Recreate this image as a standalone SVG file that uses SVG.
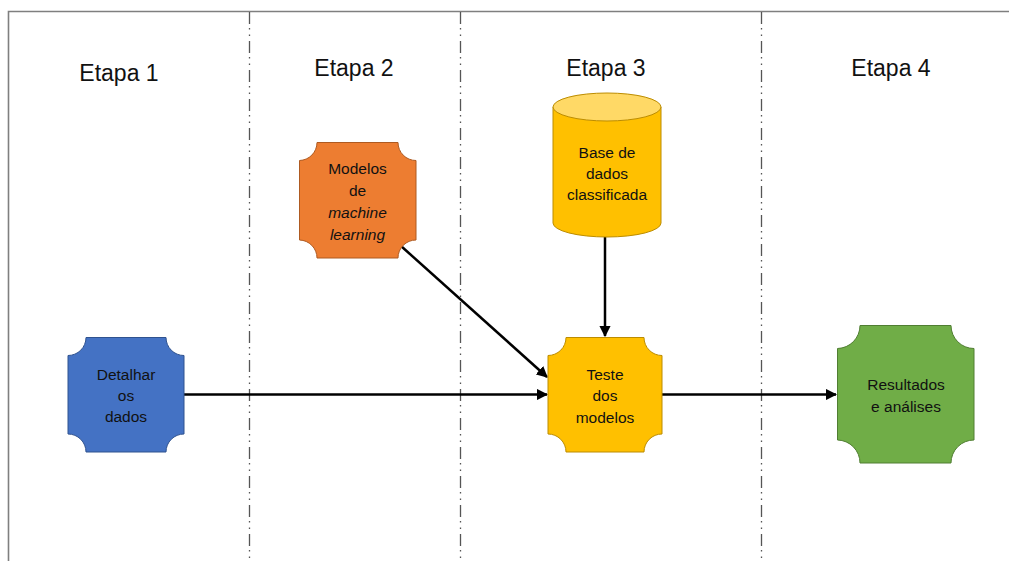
<svg xmlns="http://www.w3.org/2000/svg" width="1009" height="561" viewBox="0 0 1009 561">
<style>
.t{font-family:"Liberation Sans",Arial,sans-serif;font-size:15.5px;fill:#111;text-anchor:middle}
.h{font-family:"Liberation Sans",Arial,sans-serif;font-size:23px;fill:#111;text-anchor:middle}
.div{stroke:#555;stroke-width:1.3;stroke-dasharray:12 4 1.5 5 1.5 5;fill:none}
.c{stroke:#000;stroke-width:2.5;fill:none;marker-end:url(#ah)}
</style>
<defs>
<marker id="ah" viewBox="0 0 10 10" refX="9" refY="5" markerWidth="4.5" markerHeight="4.5" orient="auto" markerUnits="strokeWidth">
<path d="M0,0 L10,5 L0,10 z" fill="#000"/>
</marker>
</defs>
<rect width="1009" height="561" fill="#fff"/>
<g id="frame">
<path d="M8.5,561 V11.5 H1009" fill="none" stroke="#7f7f7f" stroke-width="1.6"/>
<line class="div" x1="249.5" y1="12" x2="249.5" y2="561"/>
<line class="div" x1="460.5" y1="12" x2="460.5" y2="561"/>
<line class="div" x1="761.5" y1="12" x2="761.5" y2="561"/>
</g>
<g id="headings">
<text class="h" x="119" y="81">Etapa 1</text>
<text class="h" x="354" y="76">Etapa 2</text>
<text class="h" x="606" y="76">Etapa 3</text>
<text class="h" x="891" y="76">Etapa 4</text>
</g>
<g id="connectors">
<line class="c" x1="184" y1="394.5" x2="547" y2="394.5"/>
<line class="c" x1="401" y1="246" x2="547" y2="377"/>
<line class="c" x1="605" y1="237" x2="605" y2="336"/>
<line class="c" x1="662" y1="394.5" x2="836" y2="394.5"/>
</g>
<g id="node-ml">
<path d="M317,142.5 H398 A18,18 0 0 0 416,160.5 V240 A18,18 0 0 0 398,258 H317 A18,18 0 0 0 299.5,240 V160.5 A18,18 0 0 0 317,142.5 Z" fill="#ED7D31" stroke="#AE5A21" stroke-width="1"/>
<text class="t" x="357.5" y="174">Modelos</text>
<text class="t" x="357.5" y="196">de</text>
<text class="t" x="357.5" y="218" font-style="italic">machine</text>
<text class="t" x="357.5" y="240" font-style="italic">learning</text>
</g>
<g id="node-db">
<path d="M553,107 V223 A54,14 0 0 0 661,223 V107" fill="#FFC000" stroke="#BC8C00" stroke-width="1"/>
<ellipse cx="607" cy="107" rx="54" ry="14" fill="#FFD966" stroke="#BC8C00" stroke-width="1"/>
<text class="t" x="607" y="158">Base de</text>
<text class="t" x="607" y="179">dados</text>
<text class="t" x="607" y="200">classificada</text>
</g>
<g id="node-detalhar">
<path d="M86,337.5 H166 A18,18 0 0 0 184,355.5 V434 A18,18 0 0 0 166,452 H86 A18,18 0 0 0 68,434 V355.5 A18,18 0 0 0 86,337.5 Z" fill="#4472C4" stroke="#2F528F" stroke-width="1"/>
<text class="t" x="126" y="380">Detalhar</text>
<text class="t" x="126" y="401">os</text>
<text class="t" x="126" y="422">dados</text>
</g>
<g id="node-teste">
<path d="M566,337.5 H644 A18,18 0 0 0 662,355.5 V434 A18,18 0 0 0 644,452 H566 A18,18 0 0 0 548,434 V355.5 A18,18 0 0 0 566,337.5 Z" fill="#FFC000" stroke="#BC8C00" stroke-width="1"/>
<text class="t" x="605" y="380">Teste</text>
<text class="t" x="605" y="401">dos</text>
<text class="t" x="605" y="423">modelos</text>
</g>
<g id="node-resultados">
<path d="M860,325.5 H951 A23,23 0 0 0 974,348.5 V440 A23,23 0 0 0 951,463 H860 A23,23 0 0 0 837.5,440 V348.5 A23,23 0 0 0 860,325.5 Z" fill="#70AD47" stroke="#507E32" stroke-width="1"/>
<text class="t" x="906" y="390">Resultados</text>
<text class="t" x="906" y="412">e análises</text>
</g>
</svg>
